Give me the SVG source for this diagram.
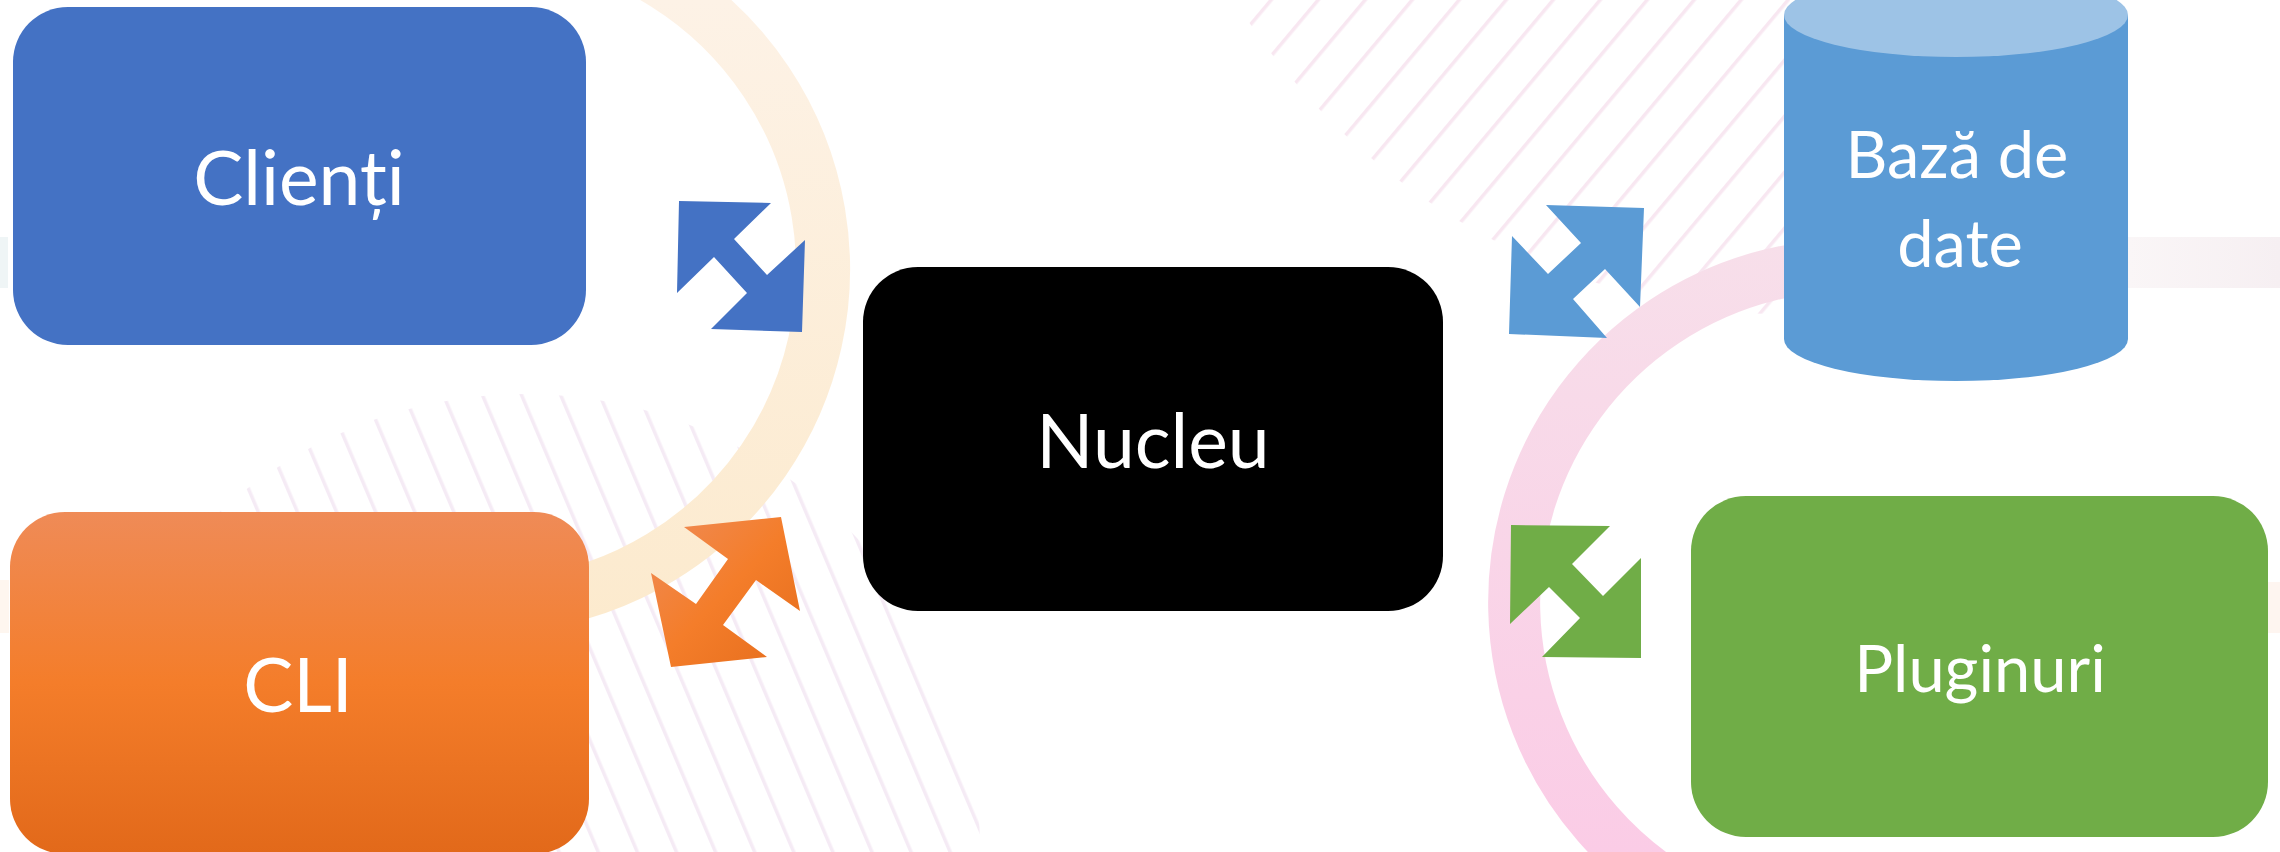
<svg xmlns="http://www.w3.org/2000/svg" width="2280" height="852" viewBox="0 0 2280 852">
  <style>
    .lbl { font-family: Lato, "Open Sans", "Noto Sans", sans-serif; fill: #FFFFFF; text-anchor: middle; }
    .big { font-size: 75px; }
    .small { font-size: 65px; }
  </style>
  <defs>
    <pattern id="hatchTR" patternUnits="userSpaceOnUse" width="36" height="36" patternTransform="rotate(40)">
      <rect x="0" y="0" width="3.5" height="36" fill="#F8E7F1"/>
    </pattern>
    <pattern id="hatchBL" patternUnits="userSpaceOnUse" width="36" height="36" patternTransform="rotate(-23)">
      <rect x="0" y="0" width="3.5" height="36" fill="#F5EBF5"/>
    </pattern>
    <clipPath id="clipTRcircle"><circle cx="1800" cy="-350" r="665"/></clipPath>
    <clipPath id="clipTRrect"><rect x="1100" y="0" width="690" height="400"/></clipPath>
    <clipPath id="clipBL"><circle cx="525" cy="849" r="455"/></clipPath>
    <linearGradient id="peachGrad" gradientUnits="userSpaceOnUse" x1="0" y1="0" x2="0" y2="640">
      <stop offset="0" stop-color="#FDF2E6"/>
      <stop offset="1" stop-color="#FCEACD"/>
    </linearGradient>
    <linearGradient id="pinkGrad" gradientUnits="userSpaceOnUse" x1="0" y1="240" x2="0" y2="852">
      <stop offset="0" stop-color="#F7DFEA"/>
      <stop offset="1" stop-color="#FBCCE6"/>
    </linearGradient>
    <linearGradient id="bandR" x1="0" y1="0" x2="1" y2="0">
      <stop offset="0" stop-color="#FAF6F7"/>
      <stop offset="1" stop-color="#F6EFF2"/>
    </linearGradient>
    <linearGradient id="orangeBox" x1="0" y1="0" x2="0" y2="1">
      <stop offset="0" stop-color="#EF8B57"/>
      <stop offset="0.5" stop-color="#F47D2A"/>
      <stop offset="1" stop-color="#E2691A"/>
    </linearGradient>
    <linearGradient id="orangeArrow" x1="0" y1="0" x2="1" y2="1">
      <stop offset="0" stop-color="#EF8C58"/>
      <stop offset="0.5" stop-color="#F47D2A"/>
      <stop offset="1" stop-color="#E56D1C"/>
    </linearGradient>
  </defs>

  <rect x="0" y="0" width="2280" height="852" fill="#FFFFFF"/>

  <g id="background">
    <rect x="0" y="237" width="8" height="51" fill="#EFF5F6"/>
    <rect x="0" y="580" width="9" height="53" fill="#FEF6EF"/>
    <rect x="2128" y="237" width="152" height="51" fill="url(#bandR)"/>
    <rect x="2268" y="582" width="12" height="51" fill="#FEF5F0"/>
    <g clip-path="url(#clipTRrect)">
      <g clip-path="url(#clipTRcircle)">
        <rect x="1100" y="0" width="700" height="400" fill="url(#hatchTR)"/>
      </g>
    </g>
    <g clip-path="url(#clipBL)">
      <rect x="60" y="380" width="940" height="472" fill="url(#hatchBL)"/>
    </g>
    <path d="M 544.5 -62.9 A 337 337 0 1 1 398.8 594.5" fill="none" stroke="url(#peachGrad)" stroke-width="54"/>
    <path d="M 1880.4 266.3 A 337 337 0 0 0 1682.5 893.8" fill="none" stroke="url(#pinkGrad)" stroke-width="52"/>
  </g>

  <g id="node-clienti">
    <rect x="13" y="7" width="573" height="338" rx="55" ry="55" fill="#4472C4"/>
    <text class="lbl big" x="299" y="205">Clienți</text>
  </g>

  <g id="node-cli">
    <rect x="10" y="512" width="579" height="342" rx="55" ry="55" fill="url(#orangeBox)"/>
    <text class="lbl big" x="298" y="712">CLI</text>
  </g>

  <g id="node-nucleu">
    <rect x="863" y="267" width="580" height="344" rx="55" ry="55" fill="#000000"/>
    <text class="lbl big" x="1153" y="468">Nucleu</text>
  </g>

  <g id="node-baza">
    <path d="M 1784 15 L 1784 339 A 172 42 0 0 0 2128 339 L 2128 15 Z" fill="#5B9BD5"/>
    <ellipse cx="1956" cy="15" rx="172" ry="42" fill="#9DC3E6"/>
    <text class="lbl small" x="1957" y="178">Bază de</text>
    <text class="lbl small" x="1960" y="267">date</text>
  </g>

  <g id="node-pluginuri">
    <rect x="1691" y="496" width="577" height="341" rx="55" ry="55" fill="#70AD47"/>
    <text class="lbl small" x="1980" y="692">Pluginuri</text>
  </g>

  <g id="connectors">
    <polygon points="679,201 771,203 734,239 767,275 805,240 802,332 711,329 747,293 714,257 677,293" fill="#4472C4"/>
    <polygon points="684,527 781,517 800,611 756,580 723,625 767,657 671,667 651,573 696,604 728,559" fill="url(#orangeArrow)"/>
    <polygon points="1546,205 1644,208 1640,307 1605,269 1573,299 1607,338 1509,334 1512,236 1548,274 1581,243" fill="#5B9BD5"/>
    <polygon points="1511,525 1610,526 1572,564 1603,596 1641,558 1641,658 1542,657 1580,618 1549,587 1510,624" fill="#70AD47"/>
  </g>
</svg>
